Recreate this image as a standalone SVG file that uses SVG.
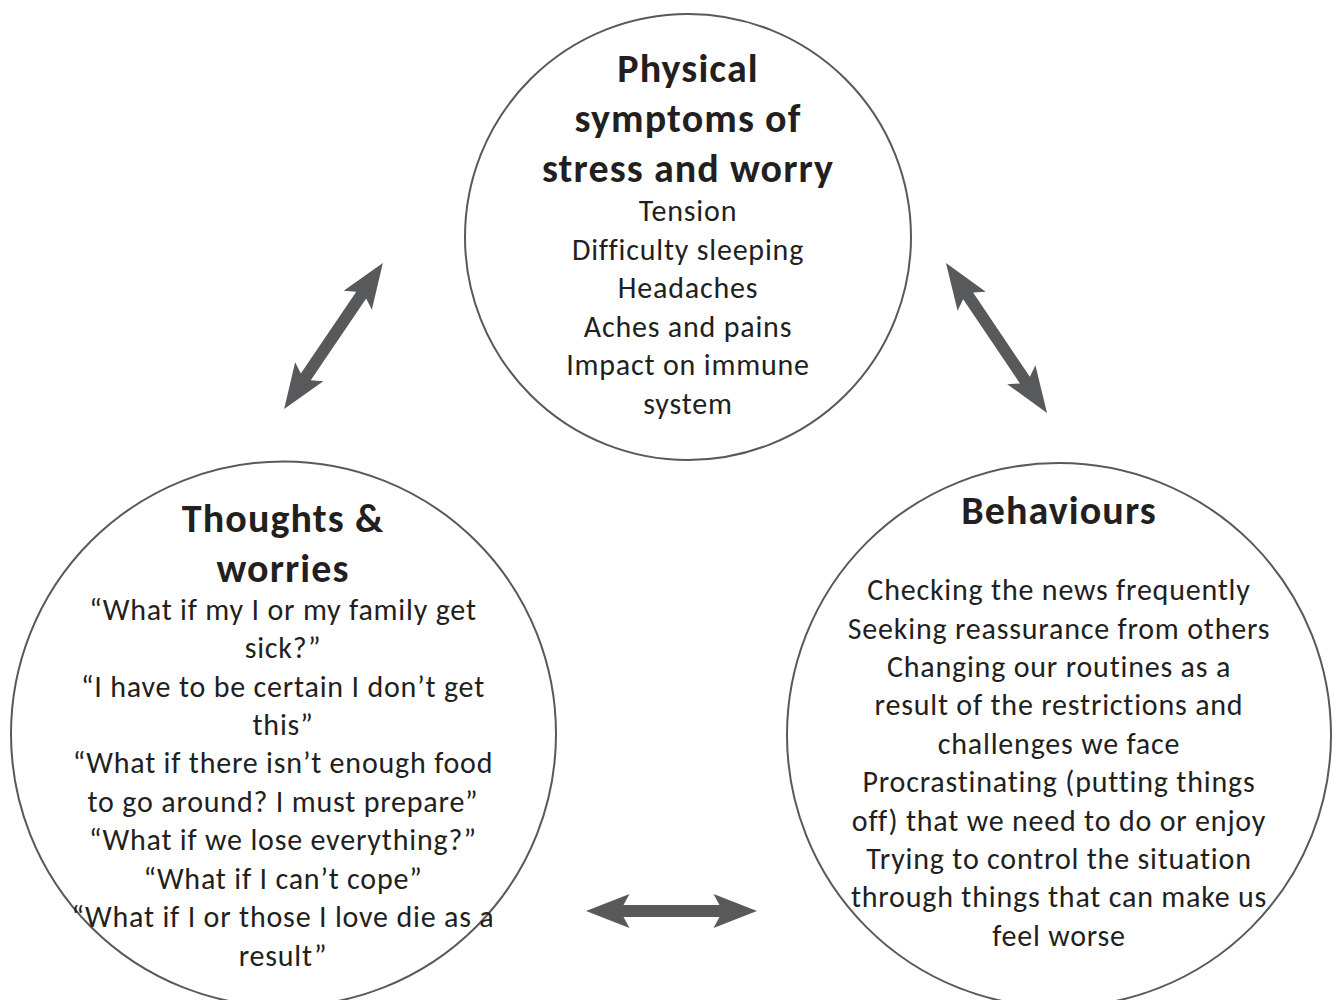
<svg xmlns="http://www.w3.org/2000/svg" width="1338" height="1000" viewBox="0 0 1338 1000">
<style>
.c{fill:none;stroke:#58595b;stroke-width:2}
.t{font-family:Carlito,Lato,"Liberation Sans",sans-serif;font-weight:bold;font-size:40px;letter-spacing:1.1px;fill:#231f20;text-anchor:middle}
.b{font-family:Carlito,Lato,"Liberation Sans",sans-serif;font-size:30px;letter-spacing:0.8px;fill:#231f20;text-anchor:middle}
.a{fill:#58595b}
</style>
<defs>
<path id="arr" d="M-85.5,0 L-42,-17 L-48,-6 L48,-6 L42,-17 L85.5,0 L42,17 L48,6 L-48,6 L-42,17 Z"/>
</defs>
<rect width="1338" height="1000" fill="#fff"/>
<g id="physical">
<circle class="c" cx="688" cy="237" r="223"/>
<text class="t" x="688" y="82">Physical</text>
<text class="t" x="688" y="132">symptoms of</text>
<text class="t" x="688" y="182">stress and worry</text>
<text class="b" x="688" y="221">Tension</text>
<text class="b" x="688" y="260">Difficulty sleeping</text>
<text class="b" x="688" y="298">Headaches</text>
<text class="b" x="688" y="337">Aches and pains</text>
<text class="b" x="688" y="375">Impact on immune</text>
<text class="b" x="688" y="414">system</text>
</g>
<g id="thoughts">
<circle class="c" cx="283.5" cy="734" r="272.5"/>
<text class="t" x="283" y="532">Thoughts &amp;</text>
<text class="t" x="283" y="582">worries</text>
<text class="b" x="283" y="620">“What if my I or my family get</text>
<text class="b" x="283" y="658">sick?”</text>
<text class="b" x="283" y="697">“I have to be certain I don’t get</text>
<text class="b" x="283" y="735">this”</text>
<text class="b" x="283" y="773">“What if there isn’t enough food</text>
<text class="b" x="283" y="812">to go around? I must prepare”</text>
<text class="b" x="283" y="850">“What if we lose everything?”</text>
<text class="b" x="283" y="889">“What if I can’t cope”</text>
<text class="b" x="283" y="927">“What if I or those I love die as a</text>
<text class="b" x="283" y="966">result”</text>
</g>
<g id="behaviours">
<circle class="c" cx="1059" cy="735" r="272"/>
<text class="t" x="1059" y="524">Behaviours</text>
<text class="b" x="1059" y="600">Checking the news frequently</text>
<text class="b" x="1059" y="639">Seeking reassurance from others</text>
<text class="b" x="1059" y="677">Changing our routines as a</text>
<text class="b" x="1059" y="715">result of the restrictions and</text>
<text class="b" x="1059" y="754">challenges we face</text>
<text class="b" x="1059" y="792">Procrastinating (putting things</text>
<text class="b" x="1059" y="831">off) that we need to do or enjoy</text>
<text class="b" x="1059" y="869">Trying to control the situation</text>
<text class="b" x="1059" y="907">through things that can make us</text>
<text class="b" x="1059" y="946">feel worse</text>
</g>
<g id="connectors" class="a">
<use href="#arr" transform="translate(333.5,336) rotate(-55.9) scale(1.03,1)"/>
<use href="#arr" transform="translate(996.5,338) rotate(56) scale(1.057,1)"/>
<use href="#arr" transform="translate(671.5,911)"/>
</g>
</svg>
